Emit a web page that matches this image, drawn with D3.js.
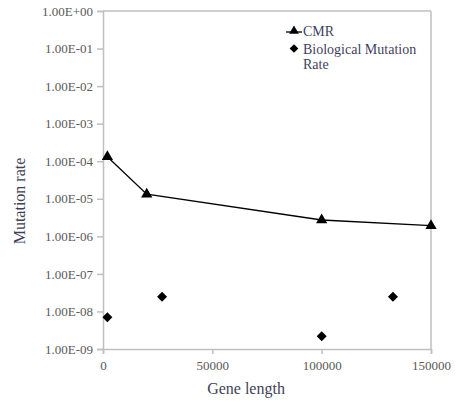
<!DOCTYPE html>
<html><head><meta charset="utf-8">
<script src="https://cdn.jsdelivr.net/npm/d3@7"></script>
<style>body{margin:0;background:#fff}</style>
</head><body>
<script>
const cmrX = [2000, 20000, 100000, 150000];
const cmrY = [1.32e-4, 1.32e-5, 2.72e-6, 1.92e-6];
const bioX = [2000, 27000, 100000, 132600];
const bioY = [7.0e-9, 2.48e-8, 2.19e-9, 2.48e-8];
const xTicks = [0, 50000, 100000, 150000];
const yTicks = [1, 1e-1, 1e-2, 1e-3, 1e-4, 1e-5, 1e-6, 1e-7, 1e-8, 1e-9];
const yTickLabels = ["1.00E+00","1.00E-01","1.00E-02","1.00E-03","1.00E-04","1.00E-05","1.00E-06","1.00E-07","1.00E-08","1.00E-09"];
const seriesNames = ["CMR", "Biological Mutation", "Rate"];

const W = 456, H = 405;
const m = {l: 103, r: 25, t: 11, b: 56};
const svg = d3.select("body").append("svg").attr("width", W).attr("height", H);
const x = d3.scaleLinear().domain([0, 150000]).range([m.l, W - m.r]);
const y = d3.scaleLog().domain([1e-9, 1]).range([H - m.b, m.t]);
const font = "'Liberation Serif', 'DejaVu Serif', serif";
const gray = "#bfbfbf";

svg.append("line").attr("x1", x(0)).attr("x2", x(150000)).attr("y1", y(1)).attr("y2", y(1)).attr("stroke", gray).attr("stroke-width", 1.5);
svg.append("line").attr("x1", x(150000)).attr("x2", x(150000)).attr("y1", y(1)).attr("y2", y(1e-9)).attr("stroke", gray).attr("stroke-width", 1.5);

const xa = svg.append("g").attr("transform", `translate(0,${y(1e-9)})`)
  .call(d3.axisBottom(x).tickValues(xTicks).tickFormat(d3.format("d")).tickSizeOuter(0).tickSize(5).tickPadding(7));
const ya = svg.append("g").attr("transform", `translate(${x(0)},0)`)
  .call(d3.axisLeft(y).tickValues(yTicks).tickFormat((d, i) => yTickLabels[i]).tickSizeOuter(0).tickSize(6).tickPadding(4));
[xa, ya].forEach(g => {
  g.selectAll("path,line").attr("stroke", gray).attr("stroke-width", 1.5);
  g.selectAll("text").attr("fill", "#595959").style("font-family", font).style("font-size", "13px");
});

svg.append("path").datum(cmrX.map((d, i) => [d, cmrY[i]]))
  .attr("d", d3.line().x(d => x(d[0])).y(d => y(d[1])))
  .attr("fill", "none").attr("stroke", "#000").attr("stroke-width", 1.3);
const tri = d3.symbol().type(d3.symbolTriangle).size(55);
const dia = d3.symbol().type(d3.symbolSquare).size(50);
svg.selectAll(".tri").data(cmrX).join("path")
  .attr("d", tri).attr("transform", (d, i) => `translate(${x(d)},${y(cmrY[i])})`).attr("fill", "#000");
svg.selectAll(".dia").data(bioX).join("path")
  .attr("d", dia).attr("transform", (d, i) => `translate(${x(d)},${y(bioY[i])}) rotate(45)`).attr("fill", "#000");

svg.append("text").attr("x", 246).attr("y", 394).attr("text-anchor", "middle")
  .style("font-family", font).style("font-size", "16px").attr("fill", "#3f3f55").text("Gene length");
svg.append("text").attr("transform", `translate(25,201) rotate(-90)`).attr("text-anchor", "middle")
  .style("font-family", font).style("font-size", "16px").attr("fill", "#3f3f55").text("Mutation rate");

const lg = svg.append("g");
lg.append("line").attr("x1", 286).attr("x2", 302).attr("y1", 32).attr("y2", 32).attr("stroke", "#000").attr("stroke-width", 1.3);
lg.append("path").attr("d", d3.symbol().type(d3.symbolTriangle).size(40)).attr("transform", "translate(294,31)").attr("fill", "#000");
lg.append("path").attr("d", d3.symbol().type(d3.symbolSquare).size(38)).attr("transform", "translate(294,48.5) rotate(45)").attr("fill", "#000");
const ts = lg.append("g").style("font-family", font).style("font-size", "14px").attr("fill", "#3f3f60");
ts.append("text").attr("x", 303).attr("y", 36).text(seriesNames[0]);
ts.append("text").attr("x", 303).attr("y", 54).text(seriesNames[1]);
ts.append("text").attr("x", 303).attr("y", 69).text(seriesNames[2]);
</script>
</body></html>
